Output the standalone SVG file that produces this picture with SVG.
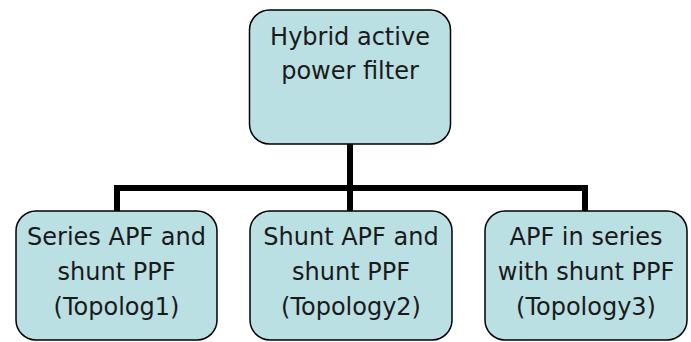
<svg xmlns="http://www.w3.org/2000/svg" width="691" height="342" viewBox="0 0 691 342">
<style>
.box{fill:#BBE0E3;stroke:#000;stroke-width:1.5}
.t{font-family:"DejaVu Sans",sans-serif;font-size:24px;fill:#1a1a1a;text-anchor:middle}
.c{fill:none;stroke:#000;stroke-width:6}
</style>
<rect width="691" height="342" fill="#fff"/>
<g id="connectors">
<path class="c" d="M350,144 V211 M117,211 V188 H585 V211"/>
</g>
<g id="root">
<rect class="box" x="249.5" y="10" width="201" height="134" rx="20"/>
<text class="t" x="350" y="45">Hybrid active</text>
<text class="t" x="350" y="79">power filter</text>
</g>
<g id="topology1">
<rect class="box" x="16" y="211" width="201" height="129" rx="20"/>
<text class="t" x="116.5" y="245">Series APF and</text>
<text class="t" x="116.5" y="280">shunt PPF</text>
<text class="t" x="116.5" y="315">(Topolog1)</text>
</g>
<g id="topology2">
<rect class="box" x="250" y="211" width="202" height="129" rx="20"/>
<text class="t" x="351" y="245">Shunt APF and</text>
<text class="t" x="351" y="280">shunt PPF</text>
<text class="t" x="351" y="315">(Topology2)</text>
</g>
<g id="topology3">
<rect class="box" x="485" y="211" width="202" height="129" rx="20"/>
<text class="t" x="586" y="245">APF in series</text>
<text class="t" x="586" y="280">with shunt PPF</text>
<text class="t" x="586" y="315">(Topology3)</text>
</g>
</svg>
